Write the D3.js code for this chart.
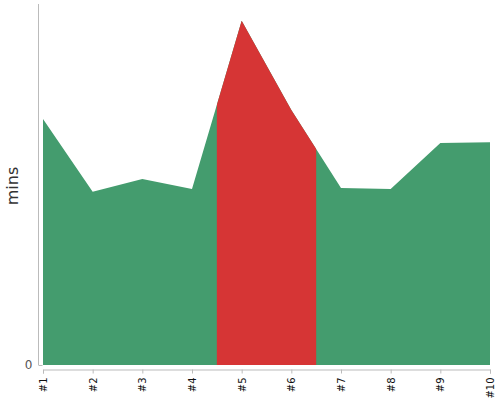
<!DOCTYPE html>
<html><head><meta charset="utf-8">
<script src="https://cdn.jsdelivr.net/npm/d3@7"></script>
<style>body{margin:0;background:#fff;} svg{display:block;font-family:"DejaVu Sans",sans-serif;}</style>
</head><body><svg id="c" width="500" height="400"></svg>
<script>
const categories = ["#1","#2","#3","#4","#5","#6","#7","#8","#9","#10"];
const values = [68.3, 48.1, 51.7, 48.9, 95.6, 70.8, 49.2, 48.9, 61.7, 61.9];
const highlightRange = [4.5, 6.5]; // in category index units (1-based)
const yTicks = [0];

const svg = d3.select("#c");
const mLeft = 43, mRight = 490, mTop = 5, mBottom = 365;
const x = d3.scaleLinear().domain([1, 10]).range([mLeft, mRight]);
const y = d3.scaleLinear().domain([0, 100]).range([mBottom, mTop]);
const data = values.map((v, i) => ({i: i + 1, v}));

const area = d3.area().x(d => x(d.i)).y0(y(0)).y1(d => y(d.v));

const defs = svg.append("defs");
defs.append("clipPath").attr("id", "hl").append("rect")
  .attr("x", x(highlightRange[0])).attr("y", 0)
  .attr("width", x(highlightRange[1]) - x(highlightRange[0])).attr("height", 400);

svg.append("path").datum(data).attr("d", area).attr("fill", "#449c6e");
svg.append("path").datum(data).attr("d", area).attr("fill", "#d63535").attr("clip-path", "url(#hl)");

// y axis
const ya = svg.append("g").attr("transform", "translate(38.5,0)")
  .call(d3.axisLeft(y).tickValues(yTicks).tickSize(-4).tickPadding(6));
ya.select(".domain").attr("d", `M0,${mTop - 1}V${mBottom}`).attr("stroke", "#bbb");
ya.selectAll(".tick line").attr("stroke", "#bbb");
ya.selectAll(".tick text").attr("fill", "#555").attr("font-size", 12).attr("font-family", "DejaVu Sans, sans-serif");

// x axis
const xa = svg.append("g").attr("transform", "translate(0,369.5)")
  .call(d3.axisBottom(x).tickValues(d3.range(1, 11)).tickFormat(d => categories[d - 1]).tickSizeOuter(0).tickSize(4));
xa.select(".domain").attr("stroke", "#bbb");
xa.selectAll(".tick line").attr("stroke", "#bbb");
xa.selectAll(".tick text")
  .attr("fill", "#111").attr("font-size", 10).attr("font-family", "DejaVu Sans, sans-serif")
  .attr("transform", "rotate(-90)").attr("text-anchor", "end")
  .attr("x", -8).attr("y", 0).attr("dy", "0.35em");

svg.append("text").attr("transform", "translate(18,186) rotate(-90)")
  .attr("text-anchor", "middle").attr("font-size", 16).attr("fill", "#333").text("mins");
</script></body></html>
